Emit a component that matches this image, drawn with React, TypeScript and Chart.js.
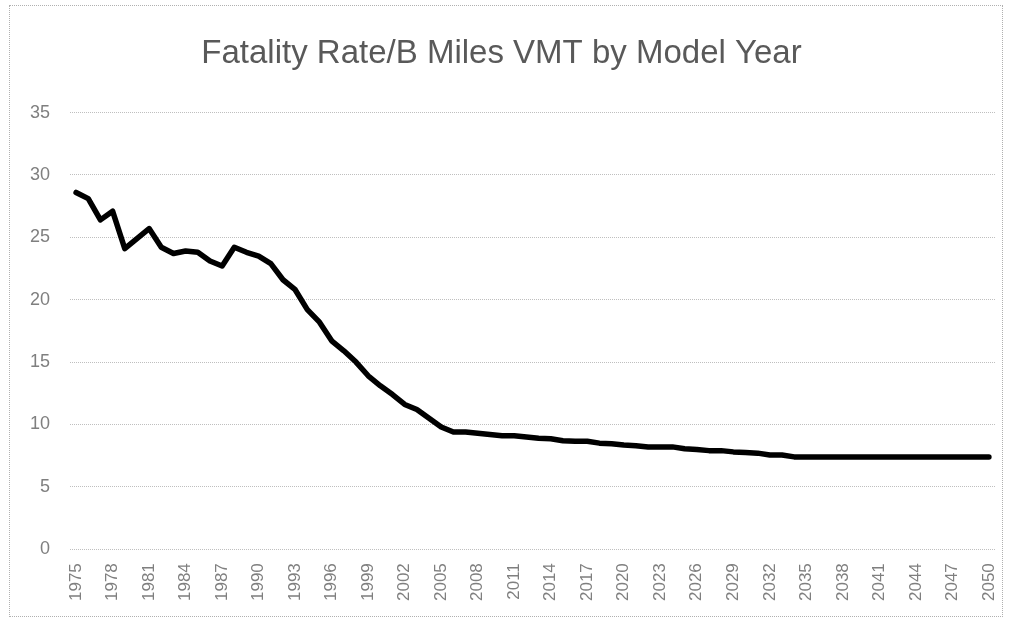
import React, { useEffect, useRef } from "react";
import { Chart, registerables } from "chart.js";

Chart.register(...registerables);

const years: string[] = [];
for (let y = 1975; y <= 2050; y++) years.push(String(y));

const fatalityRate: number[] = [
  28.6, 28.1, 26.4, 27.1, 24.1, 24.9, 25.7, 24.2, 23.7, 23.9,
  23.8, 23.1, 22.7, 24.2, 23.8, 23.5, 22.9, 21.6, 20.8, 19.2,
  18.2, 16.7, 15.9, 15.0, 13.9, 13.1, 12.4, 11.6, 11.2, 10.5,
  9.8, 9.4, 9.4, 9.3, 9.2, 9.1, 9.1, 9.0, 8.9, 8.85,
  8.7, 8.65, 8.65, 8.5, 8.45, 8.35, 8.3, 8.2, 8.2, 8.2,
  8.05, 8.0, 7.9, 7.9, 7.8, 7.75, 7.7, 7.55, 7.55, 7.4,
  7.4, 7.4, 7.4, 7.4, 7.4, 7.4, 7.4, 7.4, 7.4, 7.4,
  7.4, 7.4, 7.4, 7.4, 7.4, 7.4,
];

const yTicks: number[] = [0, 5, 10, 15, 20, 25, 30, 35];

export default function App() {
  const ref = useRef<HTMLCanvasElement | null>(null);
  useEffect(() => {
    if (!ref.current) return;
    const chart = new Chart(ref.current, {
      type: "line",
      data: {
        labels: years,
        datasets: [
          {
            data: fatalityRate,
            borderColor: "#000000",
            borderWidth: 5.5,
            pointRadius: 0,
            tension: 0,
            borderJoinStyle: "round",
            borderCapStyle: "round",
            fill: false,
          },
        ],
      },
      options: {
        animation: false,
        responsive: false,
        maintainAspectRatio: false,
        layout: { padding: { left: 8, right: 14, top: 0, bottom: 8 } },
        plugins: {
          legend: { display: false },
          tooltip: { enabled: false },
          title: {
            display: true,
            text: "Fatality Rate/B Miles VMT by Model Year",
            color: "#595959",
            font: { family: '"Liberation Sans", Arial, sans-serif', size: 33, weight: "normal" },
            padding: { top: 34, bottom: 39 },
          },
        },
        scales: {
          x: {
            type: "category",
            offset: true,
            afterFit: (s: any) => {
              s.paddingLeft = 0;
              s.paddingRight = 0;
            },
            grid: { display: false, drawTicks: false },
            border: { display: false },
            ticks: {
              autoSkip: false,
              maxRotation: 90,
              minRotation: 90,
              padding: 14,
              color: "#7f7f7f",
              font: { family: '"Liberation Sans", Arial, sans-serif', size: 17 },
              callback: (_v: any, i: number) => (i % 3 === 0 ? years[i] : ""),
            },
          },
          y: {
            min: 0,
            max: 35,
            afterFit: (s: any) => {
              s.width = 62;
            },
            afterBuildTicks: (s: any) => {
              s.ticks = yTicks.map((v) => ({ value: v }));
            },
            grid: {
              color: "#bfbfbf",
              lineWidth: 1,
              drawTicks: false,
            },
            border: { display: false, dash: [1, 1] },
            ticks: {
              padding: 20,
              color: "#7f7f7f",
              font: { family: '"Liberation Sans", Arial, sans-serif', size: 18 },
            },
          },
        },
      },
    });
    return () => chart.destroy();
  }, []);
  return (
    <div style={{ position: "fixed", left: 0, top: 0, width: 1009, height: 623, background: "#fff" }}>
      <div
        style={{
          position: "absolute",
          left: 9,
          top: 5,
          width: 994,
          height: 612,
          border: "1px dotted #b0b0b0",
          boxSizing: "border-box",
        }}
      />
      <canvas ref={ref} width={1009} height={623} style={{ position: "absolute", left: 0, top: 0 }} />
    </div>
  );
}
